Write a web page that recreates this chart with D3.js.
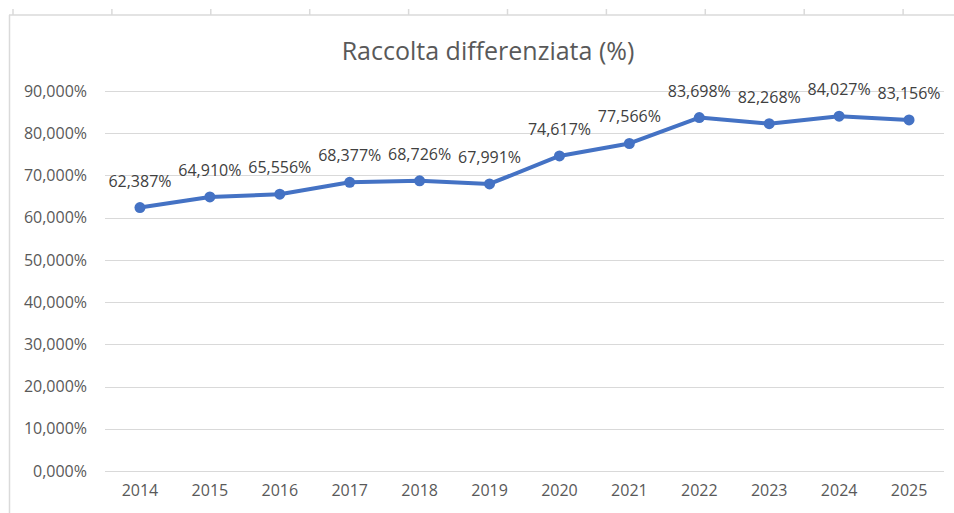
<!DOCTYPE html>
<html>
<head>
<meta charset="utf-8">
<script src="https://cdn.jsdelivr.net/npm/d3@7"></script>
<style>
  body { margin: 0; background: #fff; }
  svg { display: block; font-family: "Open Sans", sans-serif; }
</style>
</head>
<body>
<div id="chart"></div>
<script>
'use strict';

// data
const years = ["2014", "2015", "2016", "2017", "2018", "2019", "2020", "2021", "2022", "2023", "2024", "2025"];
const values = [62.387, 64.910, 65.556, 68.377, 68.726, 67.991, 74.617, 77.566, 83.698, 82.268, 84.027, 83.156];
const yTicks = [0, 10, 20, 30, 40, 50, 60, 70, 80, 90];
const chartTitle = "Raccolta differenziata (%)";

const W = 954, H = 513;
const margin = {top: 91, right: 10, bottom: 42, left: 105};
const innerW = 944 - margin.left;
const innerH = 471 - margin.top;

const fmt = function(v) {
    return d3.format(".3f")(v).replace(".", ",") + "%";
};

const svg = d3.select("#chart").append("svg")
    .attr("width", W)
    .attr("height", H);

// spreadsheet cell borders behind the chart
const frame = svg.append("g").attr("stroke", "#dadada").attr("stroke-width", 1.5);
frame.append("line").attr("x1", 9).attr("x2", W).attr("y1", 15).attr("y2", 15);
frame.append("line").attr("x1", 9.5).attr("x2", 9.5).attr("y1", 15).attr("y2", H);
d3.range(13, W, 98.9).forEach(function(x) {
    frame.append("line").attr("x1", x).attr("x2", x).attr("y1", 9).attr("y2", 15);
});

svg.append("text")
    .attr("x", 488)
    .attr("y", 60)
    .attr("text-anchor", "middle")
    .attr("fill", "#595959")
    .style("font-size", "25px")
    .text(chartTitle);

const g = svg.append("g")
    .attr("transform", "translate(" + margin.left + "," + margin.top + ")");

const x = d3.scaleBand()
    .domain(years)
    .range([0, innerW]);

const y = d3.scaleLinear()
    .domain([0, 90])
    .range([innerH, 0]);

// gridlines
g.append("g")
    .selectAll("line")
    .data(yTicks)
    .join("line")
    .attr("x1", 0)
    .attr("x2", innerW)
    .attr("y1", function(d) { return Math.round(y(d)) + 0.5; })
    .attr("y2", function(d) { return Math.round(y(d)) + 0.5; })
    .attr("stroke", "#d9d9d9")
    .attr("stroke-width", 1);

// y axis labels
const yAxis = g.append("g")
    .attr("transform", "translate(-18,0)")
    .call(d3.axisLeft(y).tickValues(yTicks).tickSize(0).tickFormat(fmt));
yAxis.select(".domain").remove();
yAxis.selectAll("text")
    .attr("x", 0)
    .attr("fill", "#595959")
    .style("font-size", "16px")
    .style("font-family", "Open Sans, sans-serif");

// x axis labels
const xAxis = g.append("g")
    .attr("transform", "translate(0," + innerH + ")")
    .call(d3.axisBottom(x).tickSize(0));
xAxis.select(".domain").remove();
xAxis.selectAll("text")
    .attr("y", 14)
    .attr("fill", "#595959")
    .style("font-size", "16px")
    .style("font-family", "Open Sans, sans-serif");

const cx = function(d, i) { return x(years[i]) + x.bandwidth() / 2; };

const line = d3.line()
    .x(function(d, i) { return cx(d, i); })
    .y(function(d) { return y(d); });

g.append("path")
    .datum(values)
    .attr("fill", "none")
    .attr("stroke", "#4472c4")
    .attr("stroke-width", 4)
    .attr("stroke-linejoin", "round")
    .attr("d", line);

g.append("g")
    .selectAll("circle")
    .data(values)
    .join("circle")
    .attr("cx", cx)
    .attr("cy", function(d) { return y(d); })
    .attr("r", 5.5)
    .attr("fill", "#4472c4");

g.append("g")
    .selectAll("text")
    .data(values)
    .join("text")
    .attr("x", cx)
    .attr("y", function(d) { return y(d) - 21; })
    .attr("text-anchor", "middle")
    .attr("fill", "#404040")
    .style("font-size", "16px")
    .text(fmt);
</script>
</body>
</html>
